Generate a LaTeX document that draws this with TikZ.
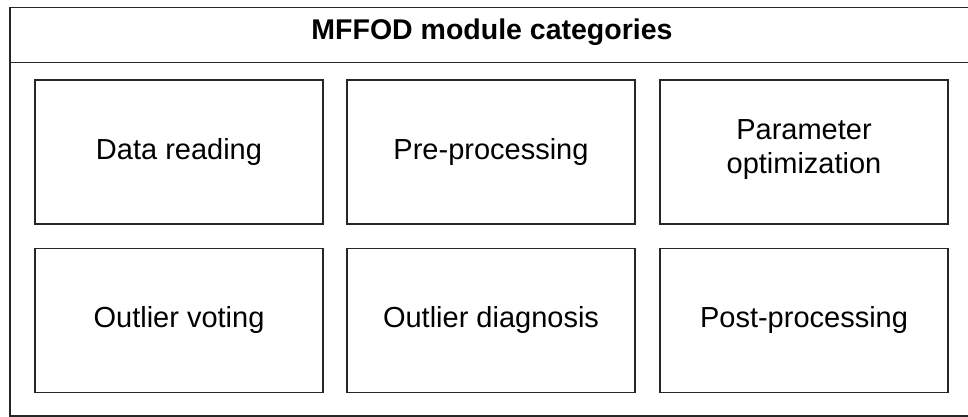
\documentclass[tikz,border=0pt]{standalone}
\usepackage{fontspec}
\setmainfont{Liberation Sans}
\begin{document}
\begin{tikzpicture}[x=1pt,y=-1pt,
  line width=1.6pt,
  catbox/.style={draw=black!85, rectangle, minimum width=288pt, minimum height=144pt,
    inner sep=0pt, align=center, font=\fontsize{29pt}{33.5pt}\selectfont,
    text height=20.4pt, text depth=6pt},
  title/.style={font=\bfseries\fontsize{28.5pt}{33.5pt}\selectfont, inner sep=0pt, anchor=base}]
\useasboundingbox (0,0) rectangle (968,417);
\clip (0,0) rectangle (968,417);
\fill[white] (0,0) rectangle (968,417);
\draw[draw=black!85] (10,7.5) rectangle (974,416);
\draw[draw=black!85] (10,62.5) -- (974,62.5);
\node[title] (t) at (492,40) {MFFOD module categories};
\node[catbox] (dr) at (179,152) {Data reading};
\node[catbox] (pp) at (491,152) {Pre-processing};
\node[catbox, text height=48pt] (po) at (804,152) {Parameter\\optimization};
\node[catbox] (ov) at (179,320.5) {Outlier voting};
\node[catbox] (od) at (491,320.5) {Outlier diagnosis};
\node[catbox] (pt) at (804,320.5) {Post-processing};
\end{tikzpicture}
\end{document}
